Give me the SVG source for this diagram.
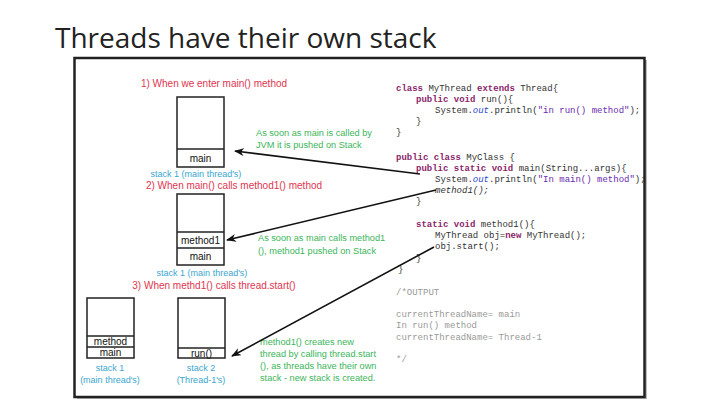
<svg xmlns="http://www.w3.org/2000/svg" width="720" height="404" viewBox="0 0 720 404">
<style>
.title{font-family:"Open Sans","Liberation Sans",sans-serif;font-size:28px;fill:#222}
.red{font-family:"Liberation Sans",Arial,sans-serif;font-size:10px;fill:#e0354f}
.blue{font-family:"Liberation Sans",Arial,sans-serif;font-size:9px;fill:#3aa6d0}
.green{font-family:"Liberation Sans",Arial,sans-serif;font-size:9.2px;fill:#3bb55a}
.lbl{font-family:"Liberation Sans",Arial,sans-serif;font-size:10px;fill:#111}
.box{fill:#fff;stroke:#222;stroke-width:1.5}
.code{font-family:"Liberation Mono","Courier New",monospace;font-size:9px;fill:#333}
.kw{fill:#8a1f6a;font-weight:bold}
.str{fill:#6a2ab0}
.fld{fill:#2a4ad0;font-style:italic}
.out{font-family:"Liberation Mono","Courier New",monospace;font-size:9px;fill:#999}
.conn{stroke:#111;stroke-width:1.6;fill:none;marker-end:url(#ah)}
</style>
<defs>
<marker id="ah" markerWidth="10" markerHeight="8" refX="9" refY="4" orient="auto" markerUnits="userSpaceOnUse">
<path d="M0,0 L10,4 L0,8 L3,4 Z" fill="#111"/>
</marker>
</defs>
<rect width="720" height="404" fill="#fff"/>
<text class="title" x="55" y="48">Threads have their own stack</text>
<rect x="77" y="60" width="570" height="339" fill="#bbb"/>
<rect x="74.5" y="58" width="570" height="339" fill="#fff" stroke="#222" stroke-width="2.5"/>

<g id="step1">
<text class="red" x="214" y="87" text-anchor="middle">1) When we enter main() method</text>
</g>
<g id="stack1a">
<rect class="box" x="177" y="97" width="47" height="70"/>
<line x1="177" y1="149" x2="224" y2="149" stroke="#222" stroke-width="1.5"/>
<text class="lbl" x="200.5" y="162" text-anchor="middle">main</text>
<text class="blue" x="196" y="177" text-anchor="middle">stack 1 (main thread's)</text>
</g>
<g id="note1">
<text class="green" x="256" y="136">As soon as main is called by</text>
<text class="green" x="256" y="148">JVM it is pushed on Stack</text>
</g>

<g id="step2">
<text class="red" x="234" y="189" text-anchor="middle">2) When main() calls method1() method</text>
</g>
<g id="stack1b">
<rect class="box" x="177" y="194" width="47" height="71"/>
<line x1="177" y1="232" x2="224" y2="232" stroke="#222" stroke-width="1.5"/>
<line x1="177" y1="248" x2="224" y2="248" stroke="#222" stroke-width="1.5"/>
<text class="lbl" x="200.5" y="244" text-anchor="middle">method1</text>
<text class="lbl" x="200.5" y="260" text-anchor="middle">main</text>
<text class="blue" x="202" y="276" text-anchor="middle">stack 1 (main thread's)</text>
</g>
<g id="note2">
<text class="green" x="258" y="241">As soon as main calls method1</text>
<text class="green" x="258" y="254">(), method1  pushed on Stack</text>
</g>

<g id="step3">
<text class="red" x="214" y="289" text-anchor="middle">3) When methd1() calls thread.start()</text>
</g>
<g id="stack1c">
<rect class="box" x="87" y="298" width="47" height="60"/>
<line x1="87" y1="336" x2="134" y2="336" stroke="#222" stroke-width="1.5"/>
<line x1="87" y1="347" x2="134" y2="347" stroke="#222" stroke-width="1.5"/>
<text class="lbl" x="110.5" y="345" text-anchor="middle">method</text>
<text class="lbl" x="110.5" y="356" text-anchor="middle">main</text>
<text class="blue" x="110" y="371" text-anchor="middle">stack 1</text>
<text class="blue" x="110" y="383" text-anchor="middle">(main thread's)</text>
</g>
<g id="stack2">
<rect class="box" x="178" y="298" width="47" height="60"/>
<line x1="178" y1="348" x2="225" y2="348" stroke="#222" stroke-width="1.5"/>
<text class="lbl" x="201.5" y="356.5" text-anchor="middle">run()</text>
<text class="blue" x="201" y="371" text-anchor="middle">stack 2</text>
<text class="blue" x="201" y="383" text-anchor="middle">(Thread-1's)</text>
</g>
<g id="note3">
<text class="green" x="260" y="345">method1() creates new</text>
<text class="green" x="260" y="357">thread by calling thread.start</text>
<text class="green" x="260" y="369">(), as threads have their own</text>
<text class="green" x="260" y="381">stack - new stack is created.</text>
</g>

<g id="code">
<text class="code" x="396" y="91"><tspan class="kw">class</tspan> MyThread <tspan class="kw">extends</tspan> Thread{</text>
<text class="code" x="416" y="102"><tspan class="kw">public</tspan> <tspan class="kw">void</tspan> run(){</text>
<text class="code" x="435" y="113">System.<tspan class="fld">out</tspan>.println(<tspan class="str">"in run() method"</tspan>);</text>
<text class="code" x="416" y="124">}</text>
<text class="code" x="396" y="135">}</text>
<text class="code" x="396" y="160"><tspan class="kw">public</tspan> <tspan class="kw">class</tspan> MyClass {</text>
<text class="code" x="416" y="171"><tspan class="kw">public</tspan> <tspan class="kw">static</tspan> <tspan class="kw">void</tspan> main(String...args){</text>
<text class="code" x="435" y="182">System.<tspan class="fld">out</tspan>.println(<tspan class="str">"In main() method"</tspan>);</text>
<text class="code" x="435" y="193" font-style="italic">method1();</text>
<text class="code" x="416" y="204">}</text>
<text class="code" x="416" y="227"><tspan class="kw">static</tspan> <tspan class="kw">void</tspan> method1(){</text>
<text class="code" x="435" y="238">MyThread obj=<tspan class="kw">new</tspan> MyThread();</text>
<text class="code" x="435" y="249">obj.start();</text>
<text class="code" x="416" y="261">}</text>
<text class="code" x="398" y="272">}</text>
<text class="out" x="396" y="295">/*OUTPUT</text>
<text class="out" x="396" y="317">currentThreadName= main</text>
<text class="out" x="396" y="328">In run() method</text>
<text class="out" x="396" y="340">currentThreadName= Thread-1</text>
<text class="out" x="396" y="362">*/</text>
</g>

<g id="connectors">
<line class="conn" x1="420" y1="174" x2="235" y2="151"/>
<line class="conn" x1="436" y1="190" x2="227" y2="240"/>
<line class="conn" x1="434" y1="247" x2="232" y2="356"/>
</g>
</svg>
